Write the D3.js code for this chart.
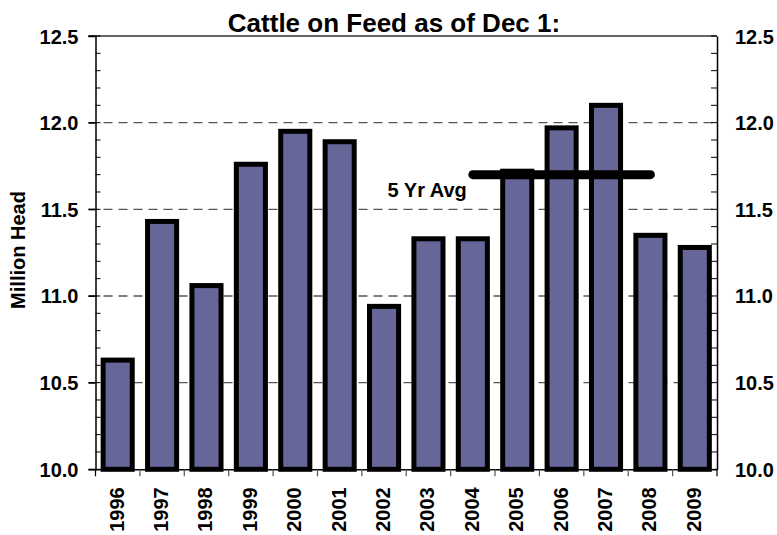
<!DOCTYPE html>
<html>
<head>
<meta charset="utf-8">
<script src="https://cdn.jsdelivr.net/npm/d3@7"></script>
<style>
  html, body { margin: 0; padding: 0; background: #fff; }
  svg text { font-family: "Liberation Sans", Arial, sans-serif; font-weight: bold; fill: #000; }
</style>
</head>
<body>
<svg id="chart" width="777" height="535"></svg>
<script>
const years = ["1996","1997","1998","1999","2000","2001","2002","2003","2004","2005","2006","2007","2008","2009"];
const values = [10.63, 11.43, 11.06, 11.76, 11.95, 11.89, 10.94, 11.33, 11.33, 11.72, 11.97, 12.10, 11.35, 11.28];
const avgYears = ["2004", "2008"];
const avgValue = 11.70;
const yTicks = [10.0, 10.5, 11.0, 11.5, 12.0, 12.5];
const gridTicks = [10.5, 11.0, 11.5, 12.0];
const minorTicks = d3.range(10.0, 12.5001, 0.1);
const title = "Cattle on Feed as of Dec 1:";
const yLabel = "Million Head";
const avgLabel = "5 Yr Avg";

const svg = d3.select("#chart");
const L = 95.5, R = 717, T = 36, B = 469.3;

const x = d3.scaleBand().domain(years).range([L, R]).padding(0);
const y = d3.scaleLinear().domain([10, 12.5]).range([B, T]);
const bw = x.bandwidth();
const barW = bw * 0.655;

// gridlines
svg.append("g").selectAll("line").data(gridTicks).join("line")
  .attr("x1", L - 7).attr("x2", R).attr("y1", d => y(d)).attr("y2", d => y(d))
  .attr("stroke", "#555").attr("stroke-width", 1.3).attr("stroke-dasharray", "9,6");

// top border
svg.append("line").attr("x1", L - 7).attr("x2", R).attr("y1", y(12.5)).attr("y2", y(12.5))
  .attr("stroke", "#333").attr("stroke-width", 1.3);

// minor ticks left (inside) and right (inside)
svg.append("g").selectAll("line").data(minorTicks).join("line")
  .attr("x1", L).attr("x2", L + 5).attr("y1", d => y(d)).attr("y2", d => y(d))
  .attr("stroke", "#000").attr("stroke-width", 1);
svg.append("g").selectAll("line").data(minorTicks).join("line")
  .attr("x1", R - 6).attr("x2", R).attr("y1", d => y(d)).attr("y2", d => y(d))
  .attr("stroke", "#000").attr("stroke-width", 1);

// major ticks outward left
svg.append("g").selectAll("line").data(yTicks).join("line")
  .attr("x1", L - 7).attr("x2", L).attr("y1", d => y(d)).attr("y2", d => y(d))
  .attr("stroke", "#000").attr("stroke-width", 1.2);

// bars
svg.append("g").selectAll("rect").data(years).join("rect")
  .attr("x", (d) => x(d) + (bw - barW) / 2)
  .attr("width", barW)
  .attr("y", (d, i) => y(values[i]))
  .attr("height", (d, i) => y(10) - y(values[i]))
  .attr("fill", "#666699")
  .attr("stroke", "#000")
  .attr("stroke-width", 5);

// left y-axis
const yAxisL = d3.axisLeft(y).tickValues(yTicks).tickFormat(d3.format(".1f")).tickSize(7).tickPadding(10);
const gL = svg.append("g").attr("transform", `translate(${L},0)`).call(yAxisL);
gL.select(".domain").attr("stroke", "#000").attr("stroke-width", 1.5);
gL.selectAll(".tick line").attr("stroke", "#000");
gL.selectAll(".tick text").style("font-size", "20px").attr("dy", "0.35em");

// right y-axis
const yAxisR = d3.axisRight(y).tickValues(yTicks).tickFormat(d3.format(".1f")).tickSize(0).tickPadding(18);
const gR = svg.append("g").attr("transform", `translate(${R},0)`).call(yAxisR);
gR.select(".domain").attr("stroke", "#000").attr("stroke-width", 1.5);
gR.selectAll(".tick text").style("font-size", "20px").attr("dy", "0.35em");

// x-axis
const xAxis = d3.axisBottom(x).tickSize(0).tickFormat("");
const gX = svg.append("g").attr("transform", `translate(0,${B})`).call(xAxis);
gX.select(".domain").attr("stroke", "#000").attr("stroke-width", 1.5);
// ticks between bands
const bounds = years.map(d => x(d)).concat([R]);
svg.append("g").selectAll("line").data(bounds).join("line")
  .attr("x1", d => d).attr("x2", d => d).attr("y1", B).attr("y2", B + 7)
  .attr("stroke", (d, i) => (i === 0 || i === bounds.length - 1) ? "#000" : "#555")
  .attr("stroke-width", 1.2);
// year labels
svg.append("g").selectAll("text").data(years).join("text")
  .attr("transform", d => `translate(${x(d) + bw / 2 + 6},${B + 18}) rotate(-90)`)
  .attr("text-anchor", "end")
  .style("font-size", "20px")
  .text(d => d);

// 5 yr avg line
const ax1 = x(avgYears[0]) + bw / 2, ax2 = x(avgYears[1]) + bw / 2;
svg.append("line")
  .attr("x1", ax1).attr("x2", ax2)
  .attr("y1", y(avgValue)).attr("y2", y(avgValue))
  .attr("stroke", "#000").attr("stroke-width", 9).attr("stroke-linecap", "round");
svg.append("text")
  .attr("x", ax1 - 6).attr("y", y(avgValue) + 22)
  .attr("text-anchor", "end")
  .style("font-size", "20px")
  .text(avgLabel);

// title
svg.append("text").attr("x", 394).attr("y", 31.5).attr("text-anchor", "middle")
  .style("font-size", "26px").text(title);

// y label
svg.append("text")
  .attr("transform", `translate(25,250) rotate(-90)`)
  .attr("text-anchor", "middle")
  .style("font-size", "20px")
  .text(yLabel);
</script>
</body>
</html>
